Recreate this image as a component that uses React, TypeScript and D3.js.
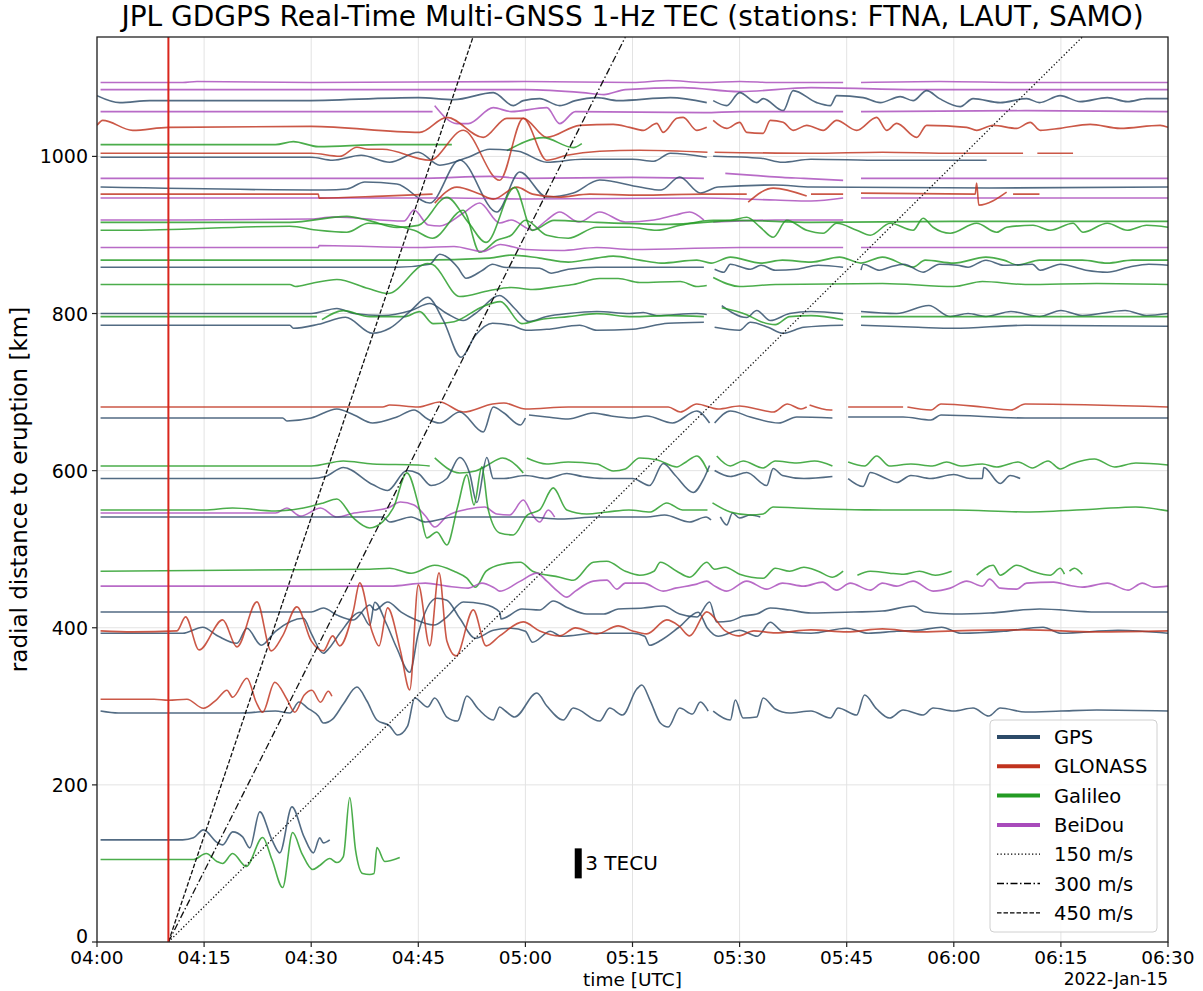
import { scaleLinear, line as d3line, curveMonotoneX } from "d3"

// time axis: minutes after 04:00 UTC
const timeTicks = ["04:00", "04:15", "04:30", "04:45", "05:00", "05:15", "05:30", "05:45", "06:00", "06:15", "06:30"]
const kmTicks = [0, 200, 400, 600, 800, 1000]
const eruptionMin = 10
const speeds = [150, 300, 450] // m/s
const TECU_KM = 12.73 // km of plot per TECU (3 TECU bar)

type P = [number, number] | null

// ---- traces: [minute, dTEC in TECU], null = data gap ----
const bds1094: P[] = [[0.5, 0], [12, 0], [14, 0.1], [30, 0], [60, 0.1], [75, 0], [80, 0.2], [85, 0], [90, 0.1], [95, 0], [104.5, 0], null, [107, 0], [118, 0.1], [130, 0], [150, 0]]
const bds1085: P[] = [[0.5, 0], [40, 0], [60, 0], [68, -0.3], [71, -0.5], [74, 0], [82, 0.2], [90, -0.2], [100, 0.2], [115, 0], [150, 0]]
const gps1071: P[] = [[0, 0.5], [3.2, -0.2], [7.4, 0], [28.4, 0], [45, 0.3], [50, 0.1], [55.5, 0.8], [58.3, -0.5], [59.7, 0], [62, 0.2], [64.8, -0.5], [67, 0], [70, 0.3], [73, 0], [80.3, 0.3], [85.4, -0.2], null, [86.3, 0], [88.2, -0.5], [90, 0.8], [92.4, -0.2], [93.3, 0.2], [96.1, -1.0], [97.5, 1.0], [100.8, -0.2], [102.7, -0.5], [103.6, 0.5], [107.3, 0.3], [109.7, -0.2], [112.5, 0.4], [114.3, 0], [116.2, 1.0], [118, 0.2], [120.9, -0.6], [122.7, 0.2], [126.5, -0.2], [130.2, 0.2], [132, -0.2], [134.9, 0.5], [137.7, -0.1], [141.5, 0.3], [144.3, -0.1], [147, 0.2], [150, 0.2]]
const bds1057: P[] = [[0.5, 0], [30, 0], [47, 0], null, [47.3, 0.6], [50.4, -1.2], [52, -1.2], [55.5, 0.4], [58, 0], [63, 0.4], [64.8, -1.2], [67, 0], [85, -0.1], [90, 0], [104.5, 0], null, [107, 0], [130, 0.1], [150, 0]]
const glo1037: P[] = [[0, 0.2], [0.8, 0.7], [5, -0.3], [10, 0], [30, 0.1], [45.2, -0.5], [49, 1.0], [54.1, -1.0], [57.4, 0.9], [59.7, 0.9], [63, -1.0], [67.6, 0.2], [72.3, 0.3], [74.6, 0], [76.5, -0.3], [78.4, 0.4], [79.3, -0.5], [81.2, 0.9], [82.1, 1.0], [84, -0.3], [85.4, 0], null, [86.3, 0.7], [88.2, -0.1], [90, 0.5], [91, -0.5], [93.3, -0.6], [94.3, 0.7], [96.1, 0.5], [97.5, -0.3], [99.4, 0.2], [101.7, -0.3], [103.6, 0.7], [106.4, -0.3], [109.2, 1.0], [110.6, -0.3], [112, 0.4], [114.8, -1.0], [116.2, 0.2], [121.8, 0], [123.2, -0.3], [125.5, 0.2], [128.8, -0.1], [130.7, 0.5], [132.1, -0.3], [134.9, -0.1], [139.1, 0.3], [143.3, -0.1], [148.9, 0.2], [150, 0]]
const gal1015: P[] = [[0.5, 0], [25, 0], [27.5, 0.3], [31, -0.2], [40, 0], [49.7, 0], null, [57.4, -0.6], [62.5, 0.7], [66.7, -0.3], [67.9, 0.1]]
const glo1004: P[] = [[0.5, 0], [30, 0], [34, -0.3], [36.4, 0.6], [38, 0.4], [40, 0.4], [46.6, -0.7], [51.3, 2.3], [56.4, -2.7], [59.7, 3.5], [63, -0.7], [65.8, -0.2], [70.4, 0.2], [76, 0.3], [85.5, 0.1], null, [86.5, 0.1], [100, 0], [110, 0.1], [120, 0], [129.7, 0], null, [131.7, 0], [136.7, 0]]
const gps999: P[] = [[0.5, 0], [30, 0], [33, -0.3], [37, 0.2], [41, -0.5], [45, 0.5], [48, -0.8], [52, 0], [55, 0.8], [59, 0.6], [63, -0.5], [68, -0.2], [75, -0.2], [78, -0.4], [80.3, 0.4], [85.4, 0], null, [86.3, 0.1], [93, -0.1], [96, -0.5], [100, -0.2], [110, -0.3], [120, -0.3], [124.6, -0.3]]
const bds972: P[] = [[0.5, 0], [45, 0], [55, 0.2], [60, 0], [75, 0.1], [85, 0], null, [88, 0.5], [92, 0.3], [96, 0.1], [99, 0], [104.5, -0.2], null, [107, 0], [150, 0]]
const gps961: P[] = [[0.5, 0], [32, -0.3], [35, -0.2], [37.5, 0.5], [42, 0.3], [46.6, -1.6], [50.8, 2.7], [56, -2.5], [59.2, 1.5], [63, -1.0], [66.7, -0.6], [70.4, 0.7], [76, 0], [79, -0.3], [81.6, 1.0], [84.5, -0.6], [87, 0], [95, 0.2], [100, 0], [125, -0.1], [150, 0]]
const glo952: P[] = [[0.5, 0], [31, 0], [31.1, -0.4], [40, -0.2], [47, 0], null, [47.3, -0.9], [50.4, 0.7], [53.6, 0], [55.5, -0.5], [58.8, 0.7], [61, 0], [64.6, -0.3], [69, 0], [76, -0.1], [85, 0], [91, 0], null, [91.2, -0.8], [94.7, 0.6], [99.4, -0.2], null, [100, 0], [104.5, 0], null, [107, 0.1], [123, 0], [123.2, 1.1], [123.5, -1.1], [127.4, 0.2], null, [128.3, 0], [132, 0]]
const bds947: P[] = [[0.5, 0], [50, 0], [60, -0.1], [85, 0], [95, -0.2], [100, -0.3], [104.5, 0], null, [107, 0], [150, 0]]
const bds919: P[] = [[0.5, 0], [12, 0], [30, 0.1], [33, 0.3], [43, -0.1], [44.4, 1.0], [46.4, -0.5], [48, -0.6], [51.3, 0.7], [53.6, 1.7], [56.4, -0.3], [58, 0], [61, -1.0], [63, 0], [64.8, 0.8], [67.5, -0.2], [70.4, 0.8], [74, -0.2], [78, 0], [81, 0.5], [83, 0.8], [85, 0], null, [86.3, -0.2], [95, 0], [104.5, 0]]
const gal916: P[] = [[0.5, 0], [27, 0], [35, 0.6], [38, 0.2], [42, -0.5], [45, -0.3], [49, 2.5], [52, 0], [54.5, -2.0], [58.5, 3.5], [61, -0.8], [64, 0.2], [70, 0], [80, -0.2], [90, 0.2], [100, 0], [120, 0.1], [150, 0.1]]
const gal906: P[] = [[0.5, 0], [4, 0], [27, 0.4], [31, 0], [35, -0.2], [38, 0.7], [44.4, 0], [47, -0.8], [51.3, 2.0], [53.6, -2.2], [56, -1.0], [58, -0.5], [60, 1.0], [63, -0.5], [66, -0.8], [70, 0.3], [74.6, 0.3], [78.4, 0], [81.7, 0.5], [86.3, 1.0], [88.7, 1.0], [91, 1.3], [92.9, 0.3], [94.7, -0.7], [96.6, 1.0], [99.4, 0], [101.7, -0.3], [103.6, 0.7], [106.4, 0], [108.3, -0.5], [111.1, 0.7], [114.3, 0], [115.7, 1.2], [117.1, 0.3], [119.5, -0.3], [123.2, 0.7], [126, -0.2], [127.4, 0.3], [131.1, 0.5], [133.5, 0], [136.7, 0.7], [138.1, -0.2], [141.5, 0.7], [144.3, 0], [147, 0.5], [150, 0.3]]
const bds884: P[] = [[0.5, 0], [31, 0], [31.1, 0.2], [45, 0], [50, 0.1], [54, -0.4], [56.5, 0.3], [60, -0.2], [65, -0.3], [70, 0], [75, -0.2], [90, 0], [104.5, 0], null, [107, 0], [150, 0]]
const gal868: P[] = [[0.5, 0], [30, 0], [45, 0], [55, 0.2], [58, 0.5], [62, 0.2], [66, -0.2], [70, 0.2], [72.3, 0.4], [76, 0], [79, -0.3], [84, 0], [86, -0.3], [88.7, 0.3], [93, -0.3], [96, 0], [100, -0.2], [104, 0.3], [107, -0.3], [110, 0.3], [114.3, -0.7], [116, 0], [120, -0.3], [124.5, 0.3], [127, 0], [129, -0.5], [132, 0], [138, 0], [141.5, -0.3], [145, 0], [150, 0]]
const gps859: P[] = [[0.5, 0], [30, 0], [42, 0], [46.6, 0.3], [48, 1.3], [50.5, 0], [51.7, -1.1], [54, -0.3], [55.4, 0.3], [57, 0], [62, -0.1], [63.6, -0.6], [66, -0.2], [70, 0], [85, 0], null, [86.5, -0.2], [87.8, -0.5], [88.7, 0.3], [91.5, -0.2], [93, 0.2], [95, -0.3], [98, -0.2], [101, 0.2], [104.5, 0], null, [107, -0.3], [107.3, 0.3], [109.6, -0.3], [111, 0], [113, 0.3], [115.7, -0.5], [118, 0.3], [120.5, 0.2], [122, 0], [124.5, 0.7], [127, 0.2], [131, 0.3], [132.1, -0.3], [133.5, 0], [134.9, 0.3], [138.5, -0.3], [141.5, -0.5], [144.5, 0], [147.3, 0.3], [150, 0.2]]
const gal837: P[] = [[0.5, 0], [27, 0], [27.8, -0.2], [30, 0.1], [33.6, 0.5], [38, -0.4], [40.7, -0.9], [46.3, 2.1], [47, 2.0], [50.8, -1.2], [55, -0.6], [58, -0.3], [61, -0.5], [64.6, -0.2], [66.7, 0], [70.4, 0.6], [73, 0.6], [76, 0.2], [81.7, 0.3], [84, -0.2], [85.4, -0.1], null, [86.3, 0.7], [90, -0.2], [95, 0], [110, 0.1], [120, -0.2], [124, 0.3], [130, 0], [140, 0.1], [150, 0]]
const gps800: P[] = [[0.5, 0], [30, 0], [33.6, 0.5], [36, 0], [40, -0.2], [44, 0.3], [46.6, 1.0], [49, 0], [51.3, -0.7], [53, 0], [56.4, 1.8], [58.5, 0.5], [60.5, -0.8], [63, -0.3], [66, 0], [70, 0.2], [74.6, 0], [76.5, 0.1], [78.4, -0.2], [84, 0], [85.4, -0.1], null, [87.5, 0.8], [91, -0.4], [92.4, 0.3], [94.3, -0.7], [97, 0], [100, 0.2], [104.5, 0], null, [107, 0.2], [112, 0], [116.5, 0.8], [119.5, -0.3], [122, 0], [124.5, -0.3], [128, 0.2], [132, -0.3], [135, 0.3], [138, -0.2], [144, 0.3], [147, -0.2], [150, 0]]
const gal796: P[] = [[0.5, 0], [30.8, 0], null, [31.5, -0.3], [34.5, 0.6], [38.2, 0], [43, 0], [45.2, 0.5], [47.1, -0.7], [50, -0.5], [54, 1.0], [56.5, 1.5], [59.5, -0.7], [62, -0.3], [66, 0], [70, 0.3], [75, 0], [80, 0.1], [85, 0], null, [87.5, 0.9], [91, 0.2], [93, -0.5], [95, -0.8], [97, 0], [100, 0.1], [104.5, -0.3], null, [107, 0], [150, 0]]
const gps785: P[] = [[0.5, 0], [27, 0], [27.5, -0.3], [31, 0.1], [34.8, 0.8], [38.6, -0.8], [41, -0.3], [44, 1.5], [46.3, 2.8], [48.5, 0.5], [51, -3.2], [53, -1.0], [55.4, 0.2], [58, 0], [60.3, -0.5], [63, -0.4], [67.6, 0], [70, -0.5], [75, -0.4], [80, 0.2], [85, 0.3], null, [86.5, -0.2], [90, -0.5], [91.5, 0.3], [94, -0.2], [96.1, -0.8], [99, -0.2], [104.5, 0], null, [107, 0], [115, -0.2], [120, -0.3], [130, 0], [150, -0.1]]
const glo681: P[] = [[0.5, 0], [40, 0], [41, 0.2], [45, 0], [48, 0.5], [51.3, -0.5], [55.4, 0.3], [57, 0.4], [60, -0.2], [66, 0], [80, 0], [81.7, -0.5], [84, 0.3], [87, -0.2], [90, 0.1], [92.4, -0.2], [94.7, -0.5], [96.7, 0.3], [98.6, -0.2], [99.4, 0], null, [99.8, 0.2], [102.7, -0.3], [103, -0.3], null, [105.2, 0], [112.9, 0], null, [113.5, 0], [116.8, -0.3], [118.2, 0.3], [124, 0], [128, -0.3], [130, 0.3], [150, 0]]
const gps667: P[] = [[0.5, 0], [26, 0], [26.6, -0.3], [30, 0], [33.6, 0.9], [36, 0.3], [38.6, -0.5], [42, 0.1], [44.4, 0.8], [46.3, -0.1], [48, -0.5], [50.8, 0.6], [54.1, -1.4], [55.5, 1.1], [57, 0.5], [59.3, -0.7], [60, 0], null, [60.5, 0.3], [63, 0.1], [66, -0.1], [69.5, 0.5], [72, 0.2], [75, 0], [77, 0.2], [80.6, -0.5], [84, 0.7], [85.8, -0.5], null, [86.5, -0.5], [88.7, 0.7], [91.5, 0.1], [95.5, -0.5], [98, 0.1], [103, 0], null, [105.2, 0.1], [112.9, 0.1], [116.8, -0.2], [118.2, 0.3], [130, 0], [150, 0]]
const gal606: P[] = [[0.5, 0], [30, 0], [34.5, 0.5], [38.6, 0.2], [45, 0.1], [46.6, 0], null, [47.3, 0.8], [50.8, -0.7], [53, -0.5], [54.5, 0], [56.8, 0.8], [58.8, 0], [59.7, -0.7], null, [60.2, 0.8], [63, 0.2], [66, 0.4], [70, 0.2], [72.3, -0.5], [74, -0.3], [76, 0.8], [78.5, 0.6], [81.2, -0.1], [82.5, 0.4], [84, 1.0], [85.6, -0.6], null, [86.8, 1.0], [88.7, 0], [90.5, 0.5], [93.3, -0.2], [95, 0.5], [98, 0.3], [100.5, 0.5], [103, 0], null, [105.2, 0.4], [107.5, 0], [109.2, 1.0], [111, 0], [114, 0.2], [117, 0], [119, 0.4], [121, 0], [124, 0.2], [126, -0.1], [129, 0.4], [131, -0.2], [133.2, 0.5], [134.9, -0.3], [136.5, 0.2], [139.7, 0.7], [142.5, -0.1], [145.5, 0.3], [150, 0.1]]
const gps590: P[] = [[0.5, 0], [30, 0], [32, 0.2], [34.5, 1.1], [38.6, -0.6], [40.7, -1.2], [43.4, 0.8], [45, 0.5], [46.8, -0.7], [49, 0], [50.8, 2.1], [52.2, 0.5], [53.2, -2.4], [54.6, 2.1], [55.5, 0], [57, 0], [60, 0.3], [63, 0], [65.8, 0.5], [68, 0.2], [71, 0], [75, 0], [77.4, -0.7], [79.3, 1.5], [81, 0.3], [83.5, -1.4], [85, 0], [85.8, 1.3], null, [86.5, 0.8], [88.7, 0.2], [91, 0.6], [93.8, -0.7], [94.7, 1.0], [96, 0.3], [99, 0], [103, 0.2], null, [105.2, 0], [107.3, -0.8], [108.3, 0.6], [110.5, 0], [112, -0.4], [114, 0.3], [116.8, 0], [120, 0.4], [122.3, 0], [124, 0], [124.2, 1.1], [126.5, -0.5], [127.9, 0.3], [129.3, 0]]
const gal550: P[] = [[0.5, 0], [15, 0], [19, 0.2], [25, -0.1], [28.9, 0.2], [31.7, 0.7], [33.6, 1.1], [35.9, -0.8], [38.2, -1.8], [40, -1.2], [41.5, 0.2], [43.4, 3.7], [45.2, 0], [46.2, -2.8], [47.6, -2.2], [49, -3.5], [50.5, 0.3], [51.8, 3.5], [52.8, 0.5], [53.9, 4.3], [54.8, 0], [56.4, -2.3], [58.3, -2.5], [60.3, -0.5], [62, 0], [63.9, 2.2], [65.8, 0], [68.6, -0.4], [71.5, -0.2], [74.5, 0], [77.5, -0.2], [79.8, 0.7], [82, 0], [85.5, 0], null, [86.2, 0.7], [88.7, -0.2], [91.5, -0.5], [93.3, -0.4], [94.7, 0.3], [98, 0.2], [110, 0], [120, 0], [130, -0.2], [140, 0.1], [145.5, 0.3], [150, -0.1]]
const bds546: P[] = [[0.5, 0], [25, 0], [26.6, 0.5], [28.5, -0.3], [31.3, 0.5], [33.6, -0.4], [36, 0], [40.7, 0.5], [42.5, 1.1], [44.4, 0.8], [46, -0.3], [47.3, -1.4], [49, -0.3], [52, 0.4], [54.3, 0.6], [56, -0.1], [57.8, -0.2], [59.7, 1.3], [61, -0.2], [62, -0.9], [63.2, 0.3], [64.1, -0.4]]
const gps541: P[] = [[0.5, 0], [40, 0], [41, -0.5], [44, 0], [46, -0.5], [50, 0], [60, 0], [65, -0.2], [70, 0], [77, 0], [79.5, 0.2], [83, -0.5], [85.3, 0], [86, -0.3], null, [87.3, 0], [88.2, -0.8], [89, 0.4], [90, -0.1], [91.5, 0.2], [92.9, 0]]
const gal472: P[] = [[0.5, 0], [38.2, 0.2], [41, 0.3], [44, -0.2], [47.3, 0.6], [50, 0], [51.8, -0.7], [53, -1.6], [54.5, 0], [56.8, 0.7], [59.3, 0.9], [61, 0], [64.8, -0.6], [66.7, -0.9], [69.5, 0.9], [71.4, 1.0], [74, 0], [76, -0.4], [78, 0], [78.9, 0.9], [81.2, 0], [83, -0.6], [85.4, 0.9], [86.5, 0.2], [88, 0.4], [90, -0.3], [93.3, -0.7], [95, 0.3], [97, 0], [99, 0.4], [101, 0], [103, -0.6], [104.5, 0], null, [106.5, -0.4], [108.3, 0], [111, -0.2], [113, -0.3], [115.2, 0], [117.4, -0.4], [119.7, 0], null, [123.2, -0.4], [125.5, 0.6], [126.5, -0.4], [128.8, 0.6], [131, 0], [133.5, -0.4], [134.9, 0.3], [135.5, -0.3], null, [136.2, 0], [136.9, 0.3], [138, -0.3]]
const bds453: P[] = [[0.5, 0], [38, 0], [41, 0], [46, 0.3], [49, 0], [52, -0.2], [53.9, 0.3], [55.7, -0.2], [56.4, -0.5], [59.3, 0.5], [61.6, 1.3], [63, 0.5], [64.5, -0.5], [65.8, -1.1], [67, -0.5], [69.5, 0.5], [71.4, 0.6], [72.8, -0.3], [74, 0.3], [76.5, 0.3], [79.3, -0.5], [81, -0.2], [84, 0.2], [85.4, 0.5], [86.3, 0.1], [88.2, -0.5], [91, 0.5], [93.8, -0.3], [96, 0.3], [99, 0], [101.6, 0.4], [103.6, -0.4], [105.5, 0.3], [108.3, -0.4], [110, 0.3], [112, 0], [114.3, 0.5], [117.1, -0.5], [119.5, -0.2], [121.8, 0.5], [124, 0], [125, 0.7], [126.5, -0.2], [128.8, -0.3], [130.2, 0.3], [134, 0.4], [136, 0.1], [138, -0.1], [141.5, 0.3], [144.4, -0.4], [146.4, 0.3], [148, -0.1], [150, 0]]
const gps420: P[] = [[0.5, 0], [30, 0], [31.7, 0.4], [33.6, -0.3], [35.9, -0.8], [38.2, 0.7], [38.9, 0.2], [40.7, 1.0], [42.6, 0], [44.4, -0.7], [47.2, -1.3], [49, -0.5], [51.3, 1.0], [54.1, 0.8], [56.4, 0], [56.6, -0.7], [59.5, 0.3], [62, 0.2], [63.9, 1.1], [66, 0.4], [68.6, -0.2], [71, -0.2], [73, 0.3], [76.5, 0.4], [79.3, 0.6], [81.6, -0.2], [84, -0.5], [85.8, 1.0], [86.8, -1.0], [88.7, -0.9], [90.5, -0.4], [92.4, -0.2], [94.3, 0.4], [97, 0.2], [100, -0.1], [106, 0], [110, 0.1], [114.3, 0.6], [116, 0], [120, -0.2], [125, -0.1], [132, 0.3], [140, 0], [150, 0]]
const glo396: P[] = [[0.5, 0], [5, -0.1], [11.2, 0], [12.4, 1.4], [14.3, -1.9], [17.6, 1.1], [19.6, -1.6], [22.4, 2.9], [24.4, -2.0], [26, -0.5], [28, 2.4], [30, -1.0], [31.7, -2.0], [33, -0.5], [34, -1.5], [35.9, 2.0], [36.8, 4.8], [38.5, 0], [39.5, -1.5], [40.7, 2.3], [42.5, -2.0], [43.8, -5.9], [45, 4.6], [46.6, -1.5], [47.9, 5.8], [49, -1.0], [50.3, -2.5], [52.7, 2.1], [54.5, -1.5], [56.4, -0.5], [59.7, 0.9], [62, 0], [64.8, -0.5], [67, 0.3], [70, -0.3], [73, 0.5], [75, 0], [77, -0.3], [79.8, 1.1], [81.5, 0.5], [83, -0.5], [85.4, 1.9], [88, 0], [89.8, -0.5], [92, 0], [95, -0.2], [100, 0.1], [105, -0.1], [110, 0.2], [115, -0.1], [120, 0], [130, 0.1], [140, -0.1], [150, 0]]
const gps393: P[] = [[0.5, 0], [12, 0], [14.8, 0.6], [17, -0.3], [19.6, -1.0], [21, 0.5], [23, -1.2], [25, 0.2], [28.9, 1.5], [30, 0], [31.7, -2.0], [32.5, -1.5], [34, 0], [36.9, 2.1], [38.2, 0.8], [38.9, 3.1], [40.5, 1.0], [42, -1.5], [43.8, -3.9], [45, 0], [47.6, 3.5], [49, 3.3], [50.8, 1.5], [53, -0.5], [55.5, 0.3], [58, 0.5], [60, 0.2], [61, -0.9], [63.5, 0.2], [65, -0.3], [70, 0], [75, 0], [76.7, -0.3], [77.4, -1.2], [79, -0.7], [81.5, 0.6], [84.2, 2.1], [85.5, 0.5], [87, -0.3], [90, 0.3], [92.5, -0.3], [94.3, 1.1], [96, 0.2], [100, 0], [105, 0.5], [108, 0], [112, 0.2], [115, 0.3], [118.3, 0.6], [121, 0], [127, 0.2], [132.5, 0.6], [135, 0], [143, 0.3], [150, 0]]
const glo309: P[] = [[0.5, 0], [8, 0], [10, -0.1], [12.6, 0], [14.9, -0.9], [16.8, 0], [18.2, 0.9], [19, 0.2], [21, 2.1], [22.3, -0.3], [23.2, -1.3], [24.9, 1.7], [26.6, 0], [27.7, -1.3], [29, 0.4], [30.1, 0.9], [31.3, -0.3], [32.4, 0.8], [32.9, 0.3]]
const gps294: P[] = [[0.5, 0], [3, -0.2], [20, -0.2], [25, 0], [27, -0.2], [28.3, 0.9], [29.5, 0.3], [31, -0.5], [31.7, -1.2], [33, -0.8], [34.5, 0.7], [36.4, 2.4], [37.8, 1.0], [39.2, -0.9], [41, -1.5], [42.1, -2.4], [43.5, -1.5], [44.5, 1.3], [46.3, 0.4], [47.3, 1.3], [49, -0.6], [50.5, -1.0], [51.8, 1.5], [53.4, 0.2], [55.5, -0.9], [56.4, 0.4], [57.2, 0], [58.5, -0.6], [61.6, 1.8], [63, 0.5], [65.3, -0.9], [66.7, 0.3], [70.4, -1.0], [71.8, 0.3], [73.6, -0.4], [75.6, 2.2], [76.3, 2.6], [77.5, 1.0], [78.9, -1.2], [80, -1.6], [81.6, 0.3], [83.4, -0.3], [84.5, 0.9], [85.6, 0], null, [86.3, 0], [88.7, -0.9], [89.4, 1.1], [90.5, -0.7], [92.4, -0.6], [93.3, 1.3], [95, 0.2], [97, -0.2], [100, 0], [102.7, -0.7], [103.8, 0.3], [106.4, -0.4], [107.5, 1.6], [109.2, 0.2], [111, -0.7], [112.9, 0.1], [115.7, -0.4], [117.1, 0.3], [120, 0], [122.7, 0.3], [124.9, -0.5], [126.5, 0.3], [130, -0.1], [135, 0], [140, 0.1], [150, 0]]
const gps130: P[] = [[0.5, 0], [12, 0], [13.5, 0.2], [14.9, 1.0], [16.9, -0.3], [17.6, -0.5], [19, 0.8], [20.4, 0.3], [21.4, -0.8], [22.8, 2.8], [24.5, 0], [25.6, -1.3], [27.3, 3.3], [29, 0.3], [30.3, -1.3], [31.2, 0.2], [31.7, -0.3], [32.6, 0]]
const gal105: P[] = [[0.5, 0], [12, 0], [13.5, 0], [15.3, 0.6], [16.8, -0.2], [17.6, -0.4], [19, 0.6], [20.9, -0.7], [23.2, 2.2], [24.5, 0], [26, -2.8], [27.4, 2.7], [28.7, 0.6], [30.2, -1.0], [31.2, -0.6], [32.6, 0.1], [33.6, -0.3], [34.5, 0.3], [35.4, 6.2], [36.2, 1.0], [37.2, -1.4], [38.2, -1.5], [38.8, -1.4], [39.2, 1.2], [40.3, -0.2], [42.4, 0.2]]

const systems = [
  { name: "GPS", color: "#2c4a68" },
  { name: "GLONASS", color: "#c0331e" },
  { name: "Galileo", color: "#239b23" },
  { name: "BeiDou", color: "#a84bbb" },
]

// [system index, baseline km, trace]
const traces: [number, number, P[]][] = [
  [3, 1094, bds1094], [3, 1085, bds1085], [0, 1071, gps1071], [3, 1057, bds1057],
  [1, 1037, glo1037], [2, 1015, gal1015], [0, 999, gps999], [1, 1004, glo1004],
  [3, 972, bds972], [0, 961, gps961], [3, 947, bds947], [1, 952, glo952],
  [3, 919, bds919], [2, 916, gal916], [2, 906, gal906], [3, 884, bds884],
  [2, 868, gal868], [0, 859, gps859], [2, 837, gal837], [0, 800, gps800],
  [2, 796, gal796], [0, 785, gps785], [1, 681, glo681], [0, 667, gps667],
  [2, 606, gal606], [0, 590, gps590], [3, 546, bds546], [0, 541, gps541],
  [2, 550, gal550], [2, 472, gal472], [3, 453, bds453], [0, 420, gps420],
  [0, 393, gps393], [1, 396, glo396], [0, 294, gps294], [1, 309, glo309],
  [0, 130, gps130], [2, 105, gal105],
]

const W = 1203
const H = 991
const m = { left: 97, right: 35, top: 37, bottom: 49 }
const font = "DejaVu Sans, sans-serif"

export default function App() {
  const x = scaleLinear().domain([0, 150]).range([m.left, W - m.right])
  const y = scaleLinear().domain([0, 1152]).range([H - m.bottom, m.top])

  const speedDash = ["1.3,2.2", "7,2.5,1.5,2.5", "4.5,2"]
  const legendRows = [
    ...systems.map((s) => ({ label: s.name, color: s.color, dash: "", w: 4 })),
    ...speeds.map((v, i) => ({ label: `${v} m/s`, color: "#000", dash: speedDash[i], w: 1.3 })),
  ]

  return (
    <svg width={W} height={H} style={{ position: "absolute", left: 0, top: 0, background: "#fff" }} fontFamily={font}>
      <defs>
        <clipPath id="plot">
          <rect x={m.left} y={m.top} width={W - m.left - m.right} height={H - m.top - m.bottom} />
        </clipPath>
      </defs>
      <rect width={W} height={H} fill="#fff" />

      {/* grid */}
      {timeTicks.map((t, i) => (
        <line key={t} x1={x(i * 15)} x2={x(i * 15)} y1={m.top} y2={H - m.bottom} stroke="#e3e3e3" strokeWidth={1} />
      ))}
      {kmTicks.map((k) => (
        <line key={k} x1={m.left} x2={W - m.right} y1={y(k)} y2={y(k)} stroke="#e3e3e3" strokeWidth={1} />
      ))}

      <g clipPath="url(#plot)">
        {traces.map(([si, base, pts], i) => {
          const gen = d3line<P>()
            .defined((d) => d !== null)
            .x((d) => x(d![0]))
            .y((d) => y(base + d![1] * TECU_KM))
            .curve(curveMonotoneX)
          return (
            <path key={i} d={gen(pts) ?? ""} fill="none" stroke={systems[si].color} strokeOpacity={0.82} strokeWidth={1.6} strokeLinejoin="round" />
          )
        })}

        {/* propagation speed lines from eruption */}
        {speeds.map((v, i) => {
          const kmPerMin = (v * 60) / 1000
          return (
            <line key={v} x1={x(eruptionMin)} y1={y(0)} x2={x(eruptionMin + 1152 / kmPerMin)} y2={y(1152)} stroke="#111" strokeWidth={1.3} strokeDasharray={speedDash[i]} />
          )
        })}

        {/* eruption time */}
        <line x1={x(eruptionMin)} x2={x(eruptionMin)} y1={m.top} y2={H - m.bottom} stroke="#d9261c" strokeWidth={2} />

        {/* 3 TECU scale bar */}
        <rect x={x(67.4) - 3.5} y={y(81 + 3 * TECU_KM)} width={7} height={y(81) - y(81 + 3 * TECU_KM)} fill="#000" />
        <text x={x(67.4) + 7} y={y(100) + 7} fontSize={20} fill="#000">3 TECU</text>
      </g>

      {/* frame */}
      <rect x={m.left} y={m.top} width={W - m.left - m.right} height={H - m.top - m.bottom} fill="none" stroke="#222" strokeWidth={1.3} />

      {/* x axis */}
      {timeTicks.map((t, i) => (
        <g key={t}>
          <line x1={x(i * 15)} x2={x(i * 15)} y1={H - m.bottom} y2={H - m.bottom + 5} stroke="#222" strokeWidth={1.2} />
          <text x={x(i * 15)} y={H - m.bottom + 22} textAnchor="middle" fontSize={18.5}>{t}</text>
        </g>
      ))}
      <text x={(m.left + W - m.right) / 2} y={H - 5} textAnchor="middle" fontSize={18.5}>time [UTC]</text>
      <text x={W - m.right} y={H - 6} textAnchor="end" fontSize={17}>2022-Jan-15</text>

      {/* y axis */}
      {kmTicks.map((k) => (
        <g key={k}>
          <line x1={m.left - 5} x2={m.left} y1={y(k)} y2={y(k)} stroke="#222" strokeWidth={1.2} />
          <text x={m.left - 9} y={y(k) + (k === 0 ? 1 : 7)} textAnchor="end" fontSize={19}>{k}</text>
        </g>
      ))}
      <text transform={`translate(27,${(m.top + H - m.bottom) / 2}) rotate(-90)`} textAnchor="middle" fontSize={23}>radial distance to eruption [km]</text>

      {/* title */}
      <text x={(m.left + W - m.right) / 2} y={26} textAnchor="middle" fontSize={28}>JPL GDGPS Real-Time Multi-GNSS 1-Hz TEC (stations: FTNA, LAUT, SAMO)</text>

      {/* legend */}
      <g>
        <rect x={990} y={720} width={167} height={212} rx={4} fill="#fff" fillOpacity={0.85} stroke="#d0d0d0" />
        {legendRows.map((r, i) => (
          <g key={r.label} transform={`translate(997,${737 + i * 29.3})`}>
            <line x1={0} x2={43} y1={0} y2={0} stroke={r.color} strokeWidth={r.w} strokeDasharray={r.dash} />
            <text x={57} y={7} fontSize={19.5}>{r.label}</text>
          </g>
        ))}
      </g>
    </svg>
  )
}
